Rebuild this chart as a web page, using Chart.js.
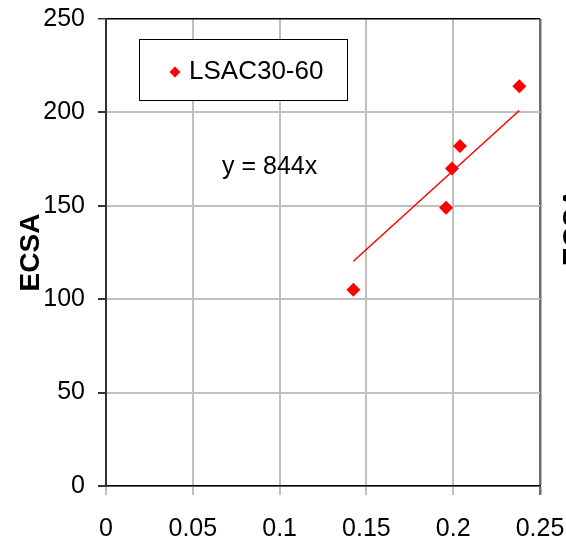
<!DOCTYPE html>
<html>
<head>
<meta charset="utf-8">
<script src="https://cdn.jsdelivr.net/npm/chart.js@4"></script>
<style>
  body { margin: 0; background: #fff; }
  canvas { display: block; }
</style>
</head>
<body>
<canvas id="ecsaChart" width="566" height="543"></canvas>
<script>
// datos
const serieNombre = "LSAC30-60";
const puntosX = [0.1425, 0.1959, 0.1993, 0.2039, 0.2381];
const puntosY = [105, 149, 170, 182, 214];
// línea de tendencia (extremos)
const tendenciaX = [0.1425, 0.2381];
const tendenciaY = [120.3, 201.0];
const ecuacion = "y = 844x";
const ticksX = ["0", "0.05", "0.1", "0.15", "0.2", "0.25"];
const ticksY = ["0", "50", "100", "150", "200", "250"];

const fuente = "'Liberation Sans', Arial, sans-serif";

// leyenda con recuadro, ecuación y título del gráfico vecino
const extras = {
    id: "extras",
    afterDraw(chart) {
        const ctx = chart.ctx;
        ctx.save();
        // recuadro de la leyenda
        ctx.strokeStyle = "#000";
        ctx.lineWidth = 1;
        ctx.fillStyle = "#fff";
        ctx.fillRect(139.5, 39.5, 208, 61);
        ctx.strokeRect(139.5, 39.5, 208, 61);
        // marcador rombo
        ctx.fillStyle = "#ff0000";
        ctx.beginPath();
        ctx.moveTo(175, 66.5);
        ctx.lineTo(180.5, 72);
        ctx.lineTo(175, 77.5);
        ctx.lineTo(169.5, 72);
        ctx.closePath();
        ctx.fill();
        ctx.fillStyle = "#000";
        ctx.font = "26px " + fuente;
        ctx.textBaseline = "middle";
        ctx.textAlign = "left";
        ctx.fillText(chart.data.datasets[0].label, 189, 72);
        // ecuación
        ctx.font = "25px " + fuente;
        ctx.fillText(ecuacion, 222, 167);
        // título del gráfico de al lado (recortado)
        ctx.translate(574, 227);
        ctx.rotate(-Math.PI / 2);
        ctx.textAlign = "center";
        ctx.font = "bold 28px " + fuente;
        ctx.fillText("ECSA", 0, 0);
        ctx.restore();
    }
};

const ctx = document.getElementById("ecsaChart").getContext("2d");
const ecsaChart = new Chart(ctx, {
    type: "scatter",
    data: {
        datasets: [{
            label: serieNombre,
            data: puntosX.map((x, i) => ({ x: x, y: puntosY[i] })),
            pointStyle: "rectRot",
            pointRadius: 7,
            pointHoverRadius: 7,
            backgroundColor: "#ff0000",
            borderColor: "#ff0000",
            borderWidth: 0,
            order: 1
        }, {
            label: "tendencia",
            type: "line",
            data: tendenciaX.map((x, i) => ({ x: x, y: tendenciaY[i] })),
            borderColor: "#ff0000",
            borderWidth: 1.5,
            pointRadius: 0,
            fill: false,
            order: 2
        }]
    },
    options: {
        responsive: false,
        animation: false,
        events: [],
        layout: { padding: { left: 0, right: 26, top: 19, bottom: 0 } },
        plugins: {
            legend: { display: false },
            tooltip: { enabled: false }
        },
        scales: {
            x: {
                type: "linear",
                min: 0,
                max: 0.25,
                afterFit: s => {
                    s.height = 57;
                    s.paddingLeft = 0;
                    s.paddingRight = 0;
                },
                afterBuildTicks: s => {
                    s.ticks = ticksX.map(t => ({ value: parseFloat(t) }));
                },
                ticks: {
                    padding: 19,
                    color: "#000",
                    font: { family: fuente, size: 25 },
                    maxRotation: 0,
                    callback: (v, i) => ticksX[i]
                },
                grid: {
                    color: c => (c.tick && c.tick.value === 0.25) ? "#6e6e6e" : "#c0c0c0",
                    lineWidth: c => (c.tick && c.tick.value === 0.25) ? 2.5 : 2,
                    tickLength: 9
                },
                border: { color: "#000", width: 1.5 }
            },
            y: {
                min: 0,
                max: 250,
                afterFit: s => {
                    s.width = 106;
                    s.paddingTop = 0;
                    s.paddingBottom = 0;
                },
                afterBuildTicks: s => {
                    s.ticks = ticksY.map(t => ({ value: parseFloat(t) }));
                },
                ticks: {
                    padding: 13,
                    color: "#000",
                    font: { family: fuente, size: 25 },
                    callback: (v, i) => ticksY[i]
                },
                grid: {
                    color: c => (c.tick && c.tick.value === 250) ? "#000" : "#c0c0c0",
                    lineWidth: c => (c.tick && c.tick.value === 250) ? 1.5 : 2,
                    tickColor: "#333",
                    tickLength: 8
                },
                border: { color: "#333", width: 2 },
                title: {
                    display: true,
                    text: "ECSA",
                    color: "#000",
                    font: { family: fuente, size: 28, weight: "bold" },
                    padding: { top: 14, bottom: 0 }
                }
            }
        }
    },
    plugins: [extras]
});
</script>
</body>
</html>
